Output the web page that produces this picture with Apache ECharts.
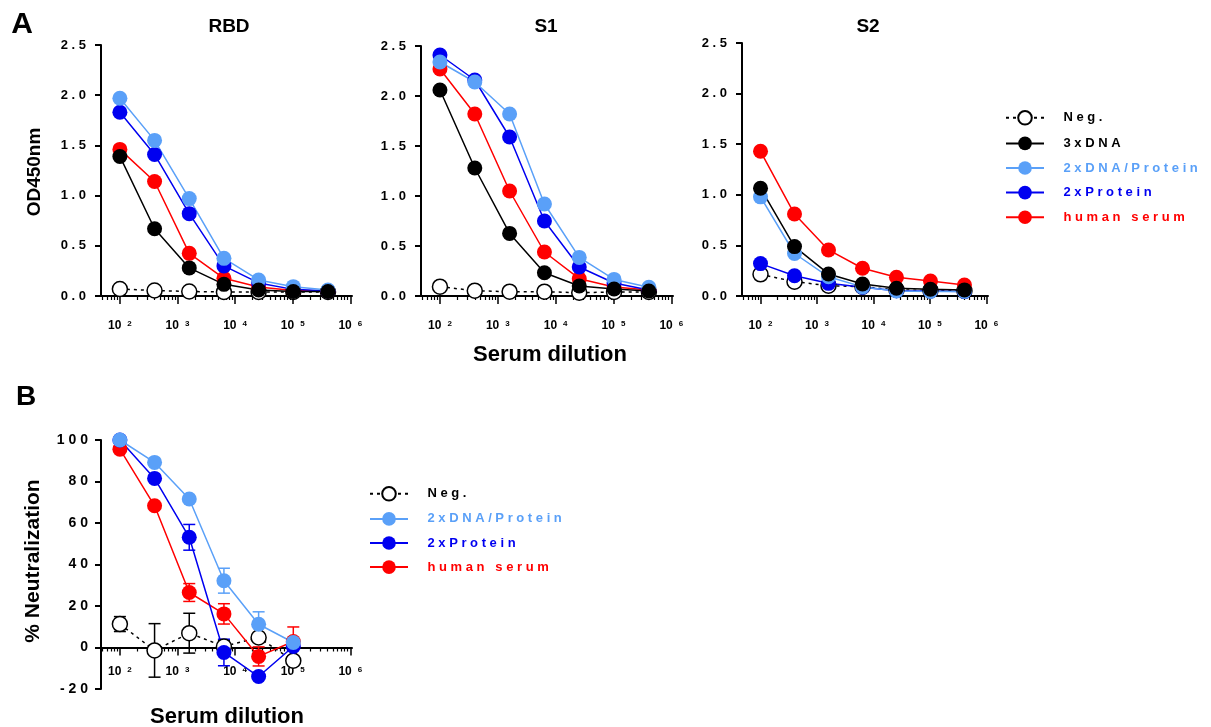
<!DOCTYPE html>
<html>
<head>
<meta charset="utf-8">
<script src="https://cdn.jsdelivr.net/npm/echarts@6/dist/echarts.min.js"></script>
<style>
  html, body { margin: 0; background: #fff; }
  #main { width: 1211px; height: 727px; }
</style>
</head>
<body>
<div id="main"></div>
<script>
// 4-fold serum dilutions
var dilutionA = [100, 400, 1600, 6400, 25600, 102400, 409600];
var dilutionB = [100, 400, 1600, 6400, 25600, 102400];

// A: ELISA OD450nm
var rbdNeg = [0.07, 0.055, 0.045, 0.04, 0.04, 0.04, 0.04];
var rbd3xDNA = [1.39, 0.67, 0.28, 0.116, 0.06, 0.045, 0.045];
var rbd2xDNAProt = [1.97, 1.55, 0.97, 0.375, 0.16, 0.093, 0.06];
var rbd2xProt = [1.83, 1.41, 0.82, 0.30, 0.13, 0.066, 0.05];
var rbdHuman = [1.46, 1.14, 0.425, 0.176, 0.09, 0.055, 0.05];

var s1Neg = [0.093, 0.053, 0.043, 0.043, 0.033, 0.04, 0.04];
var s13xDNA = [2.06, 1.28, 0.626, 0.233, 0.10, 0.07, 0.05];
var s12xDNAProt = [2.34, 2.14, 1.82, 0.92, 0.386, 0.166, 0.087];
var s12xProt = [2.41, 2.16, 1.59, 0.75, 0.29, 0.13, 0.06];
var s1Human = [2.27, 1.82, 1.05, 0.44, 0.173, 0.09, 0.06];

var s2Neg = [0.214, 0.142, 0.102, 0.092, 0.06, 0.055, 0.05];
var s23xDNA = [1.065, 0.488, 0.218, 0.119, 0.076, 0.066, 0.06];
var s22xDNAProt = [0.98, 0.42, 0.19, 0.09, 0.05, 0.045, 0.045];
var s22xProt = [0.32, 0.2, 0.125, 0.086, 0.053, 0.05, 0.045];
var s2Human = [1.43, 0.81, 0.455, 0.274, 0.185, 0.148, 0.109];

// B: % neutralization (mean and SD)
var neutNeg = [11.3, -1.4, 6.9, 0.5, 4.8, -6.4];
var neutNegSd = [3.6, 12.9, 9.6, 3, 2, 2];
var neut2xDNAProt = [100, 89.2, 71.6, 32.2, 11.2, 2.4];
var neut2xDNAProtSd = [1, 1, 1, 6, 6, 1];
var neut2xProt = [100, 81.5, 53.1, -2.4, -14, 0.5];
var neut2xProtSd = [1, 1, 6.2, 6.4, 1, 1];
var neutHuman = [95.6, 68.3, 26.5, 16.2, -4.3, 2.9];
var neutHumanSd = [1, 1, 4.3, 4.9, 4.6, 7];

var majorTicks = [100, 1000, 10000, 100000, 1000000];
var minorTicks = [];
[10, 100, 1000, 10000, 100000].forEach(function (d) {
  for (var k = 2; k <= 9; k++) {
    if (k * d >= 47) minorTicks.push(k * d);
  }
});

var FONT = '"Liberation Sans", Arial, sans-serif';
var C = {
  neg: '#000000',
  dna: '#000000',
  dnaProt: '#5aa0f8',
  prot: '#0000f0',
  human: '#ff0000'
};

function spaced(s) {
  return String(s).split('').join(' ');
}

var myChart = echarts.init(document.getElementById('main'));

var grids = [
  { left: 101, top: 45, width: 251, height: 251 },
  { left: 421, top: 46, width: 252, height: 250 },
  { left: 742, top: 43, width: 246, height: 253 },
  { left: 101, top: 440, width: 251, height: 249 }
];

var xAxes = [];
var yAxes = [];
grids.forEach(function (g, i) {
  g.outerBoundsMode = 'none';
  var isB = i === 3;
  // panel B: x axis sits at y = 0 (value 0 is 100/120 of the way down)
  var off = isB ? -g.height * 20 / 120 : 0;
  xAxes.push({
    gridIndex: i,
    type: 'log',
    logBase: 10,
    position: 'bottom',
    offset: off,
    min: 47,
    max: 1070000,
    axisLine: { show: true, onZero: false, lineStyle: { color: '#000', width: 2 } },
    axisTick: { show: true, length: 8, customValues: majorTicks, lineStyle: { color: '#000', width: 1.5 } },
    minorTick: { show: false },
    splitLine: { show: false },
    axisLabel: {
      customValues: majorTicks,
      margin: isB ? 18 : 24,
      formatter: function (v) {
        return '{b|10}{s|' + Math.round(Math.log10(v)) + '}';
      },
      rich: {
        b: { fontSize: 12, fontWeight: 'bold', color: '#000', fontFamily: FONT },
        s: { fontSize: 8, fontWeight: 'bold', color: '#000', fontFamily: FONT, verticalAlign: 'top', padding: [0, 0, 0, 6] }
      }
    }
  });
  xAxes.push({
    gridIndex: i,
    type: 'log',
    logBase: 10,
    position: 'bottom',
    offset: off,
    min: 47,
    max: 1070000,
    axisLine: { show: false, onZero: false },
    axisTick: { show: true, length: 4, customValues: minorTicks, lineStyle: { color: '#000', width: 1.2 } },
    splitLine: { show: false },
    axisLabel: { show: false }
  });
  yAxes.push({
    gridIndex: i,
    type: 'value',
    min: isB ? -20 : 0,
    max: isB ? 100 : 2.5,
    interval: isB ? 20 : 0.5,
    axisLine: { show: true, lineStyle: { color: '#000', width: 2 } },
    axisTick: { show: true, length: 6, lineStyle: { color: '#000', width: 2 } },
    splitLine: { show: false },
    axisLabel: {
      margin: isB ? 13 : 15,
      color: '#000',
      fontWeight: 'bold',
      fontSize: isB ? 14 : 13,
      fontFamily: FONT,
      formatter: function (v) {
        return spaced(isB ? String(v) : v.toFixed(1));
      }
    }
  });
});

function pairs(xs, ys) {
  return xs.map(function (x, i) { return [x, ys[i]]; });
}

function lineSeries(name, color, xs, ys, gi) {
  var s = {
    name: name,
    type: 'line',
    xAxisIndex: gi * 2,
    yAxisIndex: gi,
    data: pairs(xs, ys),
    symbol: 'circle',
    symbolSize: 15,
    itemStyle: { color: color },
    lineStyle: { color: color, width: 1.5 },
    emphasis: { disabled: true }
  };
  if (name === 'Neg.') {
    s.itemStyle = { color: '#fff', borderColor: '#000', borderWidth: 1.5 };
    s.lineStyle = { color: '#000', width: 1.5, type: [3, 4] };
  }
  return s;
}

function renderErr(params, api) {
  var x = api.value(0);
  var p1 = api.coord([x, api.value(2)]);
  var p2 = api.coord([x, api.value(1)]);
  var w = 6;
  var st = { stroke: api.visual('color'), lineWidth: 1.5 };
  return {
    type: 'group',
    children: [
      { type: 'line', shape: { x1: p1[0], y1: p1[1], x2: p2[0], y2: p2[1] }, style: st },
      { type: 'line', shape: { x1: p1[0] - w, y1: p1[1], x2: p1[0] + w, y2: p1[1] }, style: st },
      { type: 'line', shape: { x1: p2[0] - w, y1: p2[1], x2: p2[0] + w, y2: p2[1] }, style: st }
    ]
  };
}

function errSeries(name, color, xs, mean, sd) {
  return {
    name: name,
    type: 'custom',
    xAxisIndex: 6,
    yAxisIndex: 3,
    renderItem: renderErr,
    itemStyle: { color: color },
    encode: { x: 0, y: [1, 2] },
    data: xs.map(function (x, i) { return [x, mean[i] - sd[i], mean[i] + sd[i]]; })
  };
}

var panelsA = [
  [rbdNeg, rbdHuman, rbd2xProt, rbd2xDNAProt, rbd3xDNA],
  [s1Neg, s1Human, s12xProt, s12xDNAProt, s13xDNA],
  [s2Neg, s2Human, s22xProt, s22xDNAProt, s23xDNA]
];
var seriesNames = ['Neg.', 'human serum', '2xProtein', '2xDNA/Protein', '3xDNA'];
var seriesColors = [C.neg, C.human, C.prot, C.dnaProt, C.dna];

var series = [];
panelsA.forEach(function (p, gi) {
  p.forEach(function (vals, k) {
    series.push(lineSeries(seriesNames[k], seriesColors[k], dilutionA, vals, gi));
  });
});

series.push(errSeries('Neg. SD', C.neg, dilutionB, neutNeg, neutNegSd));
series.push(errSeries('human serum SD', C.human, dilutionB, neutHuman, neutHumanSd));
series.push(errSeries('2xProtein SD', C.prot, dilutionB, neut2xProt, neut2xProtSd));
series.push(errSeries('2xDNA/Protein SD', C.dnaProt, dilutionB, neut2xDNAProt, neut2xDNAProtSd));
series.push(lineSeries('Neg.', C.neg, dilutionB, neutNeg, 3));
series.push(lineSeries('human serum', C.human, dilutionB, neutHuman, 3));
series.push(lineSeries('2xProtein', C.prot, dilutionB, neut2xProt, 3));
series.push(lineSeries('2xDNA/Protein', C.dnaProt, dilutionB, neut2xDNAProt, 3));

var legendText = { fontWeight: 'bold', fontSize: 13, fontFamily: FONT };
function legendItem(name, color) {
  return { name: name, textStyle: { color: color } };
}
function legendFmt(name) {
  return '    ' + spaced(name);
}

function label(text, x, y, size, rot) {
  return {
    type: 'text',
    x: x,
    y: y,
    rotation: rot || 0,
    style: {
      text: text,
      fill: '#000',
      font: 'bold ' + size + 'px ' + FONT,
      textAlign: 'center',
      textVerticalAlign: 'middle'
    }
  };
}

myChart.setOption({
  animation: false,
  backgroundColor: '#fff',
  grid: grids,
  xAxis: xAxes,
  yAxis: yAxes,
  legend: [
    {
      orient: 'vertical',
      left: 1005,
      top: 110,
      padding: 0,
      itemWidth: 38,
      itemHeight: 17,
      itemGap: 11,
      selectedMode: false,
      textStyle: legendText,
      formatter: legendFmt,
      data: [
        legendItem('Neg.', C.neg),
        legendItem('3xDNA', C.dna),
        legendItem('2xDNA/Protein', C.dnaProt),
        legendItem('2xProtein', C.prot),
        legendItem('human serum', C.human)
      ]
    },
    {
      orient: 'vertical',
      left: 369,
      top: 486,
      padding: 0,
      itemWidth: 38,
      itemHeight: 17,
      itemGap: 10.5,
      selectedMode: false,
      textStyle: legendText,
      formatter: legendFmt,
      data: [
        legendItem('Neg.', C.neg),
        legendItem('2xDNA/Protein', C.dnaProt),
        legendItem('2xProtein', C.prot),
        legendItem('human serum', C.human)
      ]
    }
  ],
  graphic: [
    label('A', 22, 25, 30),
    label('B', 26, 397, 28),
    label('RBD', 229, 27, 19),
    label('S1', 546, 27, 19),
    label('S2', 868, 27, 19),
    label('OD450nm', 35, 172, 19, Math.PI / 2),
    label('Serum dilution', 550, 355, 22),
    label('% Neutralization', 33, 561, 21, Math.PI / 2),
    label('Serum dilution', 227, 717, 22)
  ],
  series: series
});
</script>
</body>
</html>
